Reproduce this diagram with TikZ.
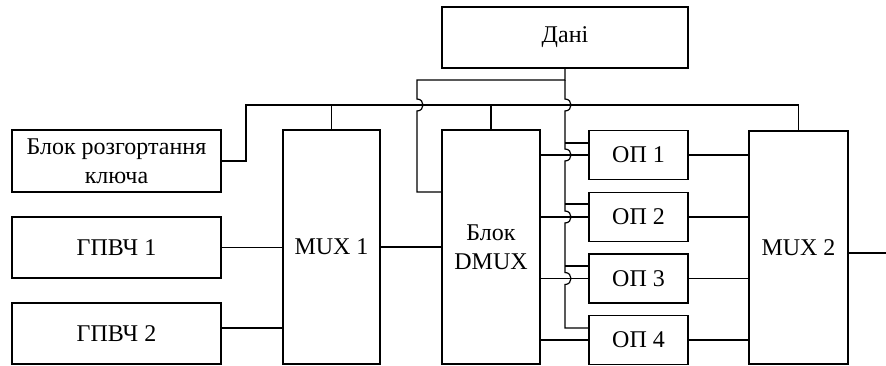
\documentclass[tikz,border=0pt]{standalone}
\usepackage{fontspec}
\setmainfont{Liberation Serif}
\usetikzlibrary{calc}
\begin{document}
\begin{tikzpicture}[x=1pt,y=-1pt,line width=1.2pt,
  box/.style={draw,inner sep=0pt,align=center,font=\fontsize{24}{29}\selectfont},
  wide/.style={box,minimum width=209pt,minimum height=61pt},
  tall/.style={box,minimum width=98pt,minimum height=234pt},
  opbox/.style={box,minimum width=99pt,minimum height=49pt}]
\useasboundingbox (0,0) rectangle (886,365);
% nodes
\node[box,minimum width=246pt,minimum height=61pt] (dani) at (565,37.5) {Дані};
\node[wide,minimum height=62pt] (key) at (116.5,161) {Блок розгортання\\ключа};
\node[wide] (g1) at (116.5,247.5) {ГПВЧ 1};
\node[wide] (g2) at (116.5,333.5) {ГПВЧ 2};
\node[tall,minimum width=97pt] (mux1) at (331.5,247) {MUX 1};
\node[tall] (dmux) at (491,247) {Блок\\DMUX};
\node[opbox] (op1) at (638.5,155) {ОП 1};
\node[opbox] (op2) at (638.5,217) {ОП 2};
\node[opbox] (op3) at (638.5,278.5) {ОП 3};
\node[opbox] (op4) at (638.5,340) {ОП 4};
\node[tall,minimum width=99pt,minimum height=233pt] (mux2) at (798.5,247.5) {MUX 2};
% coordinates
\coordinate (dj) at (565,80);
\coordinate (dl) at (417,80);
\coordinate (dd) at (417,192);
\coordinate (b1) at (565,143);
\coordinate (b2) at (565,204);
\coordinate (b3) at (565,266);
\coordinate (b4) at (565,328);
\coordinate (kl) at (246,105);
\coordinate (out) at (886,253);
% key line
\draw (key.east) -| (kl) -- (kl -| mux2.north) -- (mux2.north);
\draw (mux1.north) -- (mux1.north |- kl);
\draw (dmux.north) -- (dmux.north |- kl);
% data lines
\draw (dani.south) -- (dj) -- (dl) -- (417,99) .. controls (425,99) and (425,111) .. (417,111) -- (dd) -- (dmux.west |- dd);
\draw (dj) -- (565,99) .. controls (573,99) and (573,111) .. (565,111)
  -- (565,149) .. controls (573,149) and (573,161) .. (565,161)
  -- (565,211) .. controls (573,211) and (573,223) .. (565,223)
  -- (565,272.5) .. controls (573,272.5) and (573,284.5) .. (565,284.5)
  -- (b4) -- (op4.west |- b4);
\draw (b1) -- (op1.west |- b1);
\draw (b2) -- (op2.west |- b2);
\draw (b3) -- (op3.west |- b3);
% generators
\draw (g1.east) -- (mux1.west |- g1.east);
\draw (g2.east |- 0,328) -- (mux1.west |- 0,328);
\draw (mux1.east) -- (dmux.west);
% dmux to op
\draw (dmux.east |- op1.west) -- (op1.west);
\draw (dmux.east |- op2.west) -- (op2.west);
\draw (dmux.east |- op3.west) -- (op3.west);
\draw (dmux.east |- op4.west) -- (op4.west);
% op to mux2
\draw (op1.east) -- (mux2.west |- op1.east);
\draw (op2.east) -- (mux2.west |- op2.east);
\draw (op3.east) -- (mux2.west |- op3.east);
\draw (op4.east) -- (mux2.west |- op4.east);
\draw (mux2.east |- out) -- (out);
\end{tikzpicture}
\end{document}
